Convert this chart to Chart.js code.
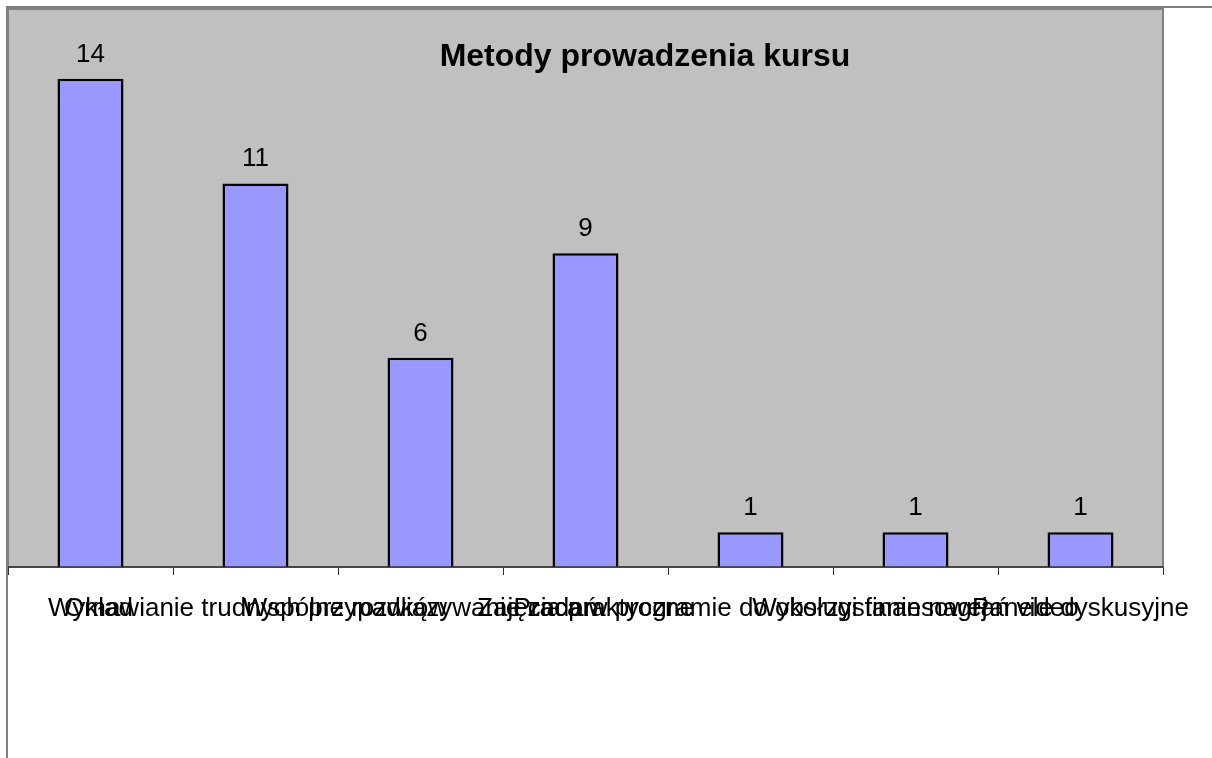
<!DOCTYPE html>
<html>
<head>
<meta charset="utf-8">
<script src="https://cdn.jsdelivr.net/npm/chart.js@4/dist/chart.umd.min.js"></script>
<style>
html,body{margin:0;padding:0;background:#fff;}
canvas{display:block;}
</style>
</head>
<body>
<canvas id="c" width="1212" height="758"></canvas>
<script>
const chartTitle = "Metody prowadzenia kursu";
const categories = [
  "Wykład",
  "Omawianie trudnych przypadków",
  "Wspólne rozwiązywanie zadań",
  "Zajęcia praktyczne",
  "Praca w programie do obsługi finansowej",
  "Wykorzystanie nagrań video",
  "Panele dyskusyjne"
];
const values = [14, 11, 6, 9, 1, 1, 1];
const yMin = 0;
const yMax = 16;

const FONT = "'Liberation Sans', Arial, sans-serif";

const framePlugin = {
  id: 'frame',
  beforeDraw(chart) {
    const ctx = chart.ctx;
    const a = chart.chartArea;
    ctx.save();
    ctx.fillStyle = '#ffffff';
    ctx.fillRect(0, 0, chart.width, chart.height);
    ctx.strokeStyle = '#808080';
    ctx.lineWidth = 2;
    ctx.beginPath();
    ctx.moveTo(7, chart.height + 5);
    ctx.lineTo(7, 7);
    ctx.lineTo(chart.width + 5, 7);
    ctx.stroke();
    ctx.fillStyle = '#c0c0c0';
    ctx.fillRect(a.left, a.top, a.right - a.left, a.bottom - a.top);
    ctx.strokeStyle = '#808080';
    ctx.lineWidth = 2;
    ctx.strokeRect(a.left, a.top, a.right - a.left, a.bottom - a.top);
    ctx.restore();
  },
  afterDatasetsDraw(chart) {
    const ctx = chart.ctx;
    const a = chart.chartArea;
    ctx.save();
    ctx.strokeStyle = '#333333';
    ctx.lineWidth = 1.5;
    ctx.beginPath();
    ctx.moveTo(a.left, a.bottom);
    ctx.lineTo(a.right, a.bottom);
    ctx.stroke();
    ctx.fillStyle = '#000';
    ctx.font = "26px " + FONT;
    ctx.textAlign = 'center';
    ctx.textBaseline = 'alphabetic';
    const meta = chart.getDatasetMeta(0);
    meta.data.forEach((bar, i) => {
      ctx.fillText(String(values[i]), bar.x, bar.y - 17);
    });
    ctx.font = "bold 32px " + FONT;
    ctx.textBaseline = 'middle';
    ctx.fillText(chartTitle, 645, 57);
    ctx.restore();
  }
};

new Chart(document.getElementById('c'), {
  type: 'bar',
  data: {
    labels: categories,
    datasets: [{
      data: values,
      backgroundColor: '#9999ff',
      borderColor: '#000000',
      borderWidth: 2.5,
      barPercentage: 0.4,
      categoryPercentage: 1.0
    }]
  },
  options: {
    responsive: false,
    animation: false,
    devicePixelRatio: 1,
    layout: { padding: { left: 8, top: 9, right: 49, bottom: 0 } },
    plugins: {
      legend: { display: false },
      title: { display: false },
      tooltip: { enabled: false }
    },
    scales: {
      y: { display: false, min: yMin, max: yMax },
      x: {
        offset: true,
        grid: {
          display: true,
          drawOnChartArea: false,
          drawTicks: true,
          tickLength: 8,
          color: '#333333',
          lineWidth: 1,
          offset: true
        },
        border: { display: false },
        ticks: {
          color: '#000',
          font: { family: FONT, size: 26 },
          maxRotation: 0,
          minRotation: 0,
          autoSkip: false,
          padding: 18
        },
        afterFit(scale) { scale.height = 191; }
      }
    }
  },
  plugins: [framePlugin]
});
</script>
</body>
</html>
